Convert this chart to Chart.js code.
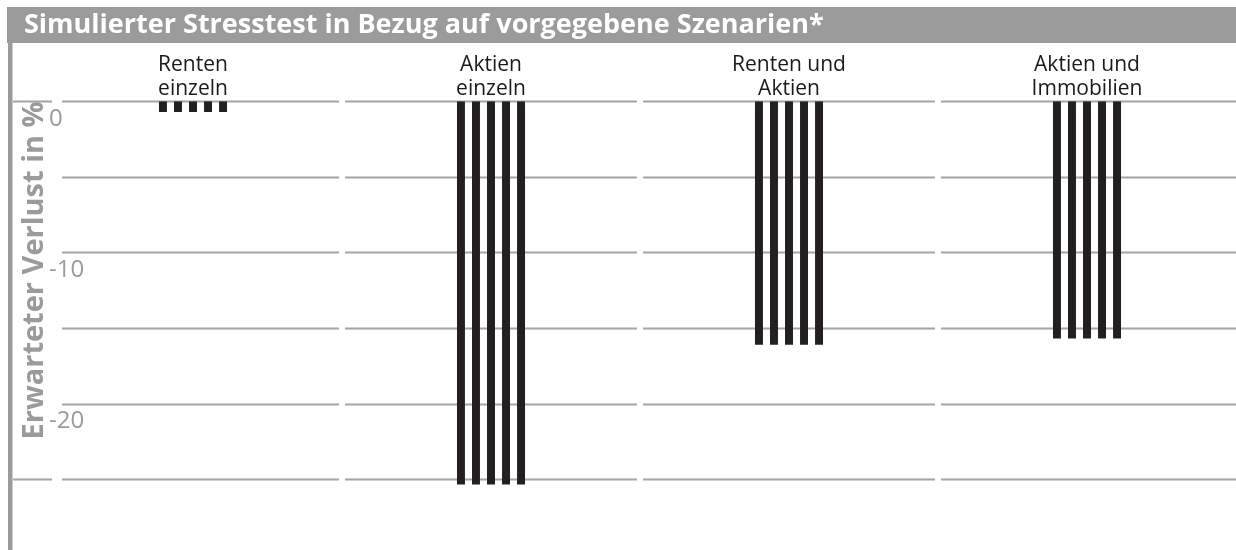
<!DOCTYPE html>
<html>
<head>
<meta charset="utf-8">
<script src="https://cdn.jsdelivr.net/npm/chart.js@4"></script>
<style>
    body { margin: 0; background: #fff; }
    canvas { display: block; }
</style>
</head>
<body>
<canvas id="stressChart" width="1236" height="550"></canvas>
<script>
// ==============================
// Data
// ==============================
const chartTitle = "Simulierter Stresstest in Bezug auf vorgegebene Szenarien*";
const axisTitle = "Erwarteter Verlust in %";

const categories = [
    ["Renten", "einzeln"],
    ["Aktien", "einzeln"],
    ["Renten und", "Aktien"],
    ["Aktien und", "Immobilien"]
];

// expected loss in %
const lossValues = [-0.7, -25.35, -16.1, -15.7];

// every bar is shown as 5 thin stripes
const stripeCount = 5;

const yMin = -28.4;
const yMax = 0;
const gridStep = 5;
const labelStep = 10;

const grey = "#9b9b9b";
const barColor = "#231f20";


// ==============================
// Frame: title bar, left rule, broken grid lines
// ==============================
const framePlugin = {
    id: "frame",
    beforeDraw(chart) {
        const ctx = chart.ctx;
        ctx.save();

        // title bar
        ctx.fillStyle = grey;
        ctx.fillRect(7, 7, chart.width - 7, 36);
        ctx.fillStyle = "#ffffff";
        ctx.font = "bold 27px 'Open Sans'";
        ctx.textBaseline = "middle";
        ctx.fillText(chartTitle, 24, 25);

        // left rule
        ctx.fillStyle = grey;
        ctx.fillRect(8, 43, 4.5, chart.height - 43);

        ctx.restore();
    },
    beforeDatasetsDraw(chart) {
        const ctx = chart.ctx;
        const area = chart.chartArea;
        const x = chart.scales.x;
        const y = chart.scales.y;

        const slot = x.getPixelForValue(1) - x.getPixelForValue(0);
        const breaks = [];
        for (let i = 1; i < categories.length; i++) {
            breaks.push(x.getPixelForValue(i) - slot / 2);
        }

        const gridValues = y.ticks
            .map(t => t.value)
            .filter(v => v % gridStep === 0);
        const lowest = Math.min(...gridValues);

        ctx.save();
        ctx.strokeStyle = "#a4a4a4";
        ctx.lineWidth = 2;

        gridValues.forEach(v => {
            const py = Math.round(y.getPixelForValue(v)) + 0.5;
            const segments = [];

            // top and bottom lines run out to the left rule
            if (v === 0 || v === lowest) {
                segments.push([13, area.left + 8]);
            }

            let start = area.left + 18;
            breaks.forEach(b => {
                segments.push([start, b - 3]);
                start = b + 3;
            });
            segments.push([start, chart.width]);

            ctx.beginPath();
            segments.forEach(s => {
                ctx.moveTo(s[0], py);
                ctx.lineTo(s[1], py);
            });
            ctx.stroke();
        });

        ctx.restore();
    }
};


// ==============================
// Chart
// ==============================
const datasets = [];
for (let i = 0; i < stripeCount; i++) {
    datasets.push({
        label: "Streifen " + (i + 1),
        data: lossValues,
        backgroundColor: barColor,
        borderWidth: 0,
        categoryPercentage: 0.252,
        barPercentage: 0.53
    });
}

new Chart(document.getElementById("stressChart"), {
    type: "bar",
    data: {
        labels: categories,
        datasets: datasets
    },
    options: {
        responsive: false,
        animation: false,
        devicePixelRatio: 1,
        layout: {
            padding: { top: 53, left: 14, right: 0, bottom: 0 }
        },
        plugins: {
            legend: { display: false },
            tooltip: { enabled: true }
        },
        scales: {
            x: {
                position: "top",
                grid: { display: false, drawTicks: false },
                border: { display: false },
                ticks: {
                    color: "#1a1a1a",
                    padding: 0,
                    maxRotation: 0,
                    autoSkip: false,
                    font: { family: "'Open Sans'", size: 21, lineHeight: 1.15 }
                }
            },
            y: {
                min: yMin,
                max: yMax,
                grid: { display: false, drawTicks: false },
                border: { display: false },
                afterFit(scale) {
                    scale.width = 30;
                },
                title: {
                    display: true,
                    text: axisTitle,
                    align: "end",
                    color: grey,
                    padding: { top: 6, bottom: 0 },
                    font: { family: "'Open Sans'", size: 29, weight: "bold", lineHeight: 1 }
                },
                ticks: {
                    stepSize: gridStep,
                    mirror: true,
                    padding: 5,
                    labelOffset: 18,
                    color: grey,
                    font: { family: "'Open Sans'", size: 24 },
                    callback: v => (v % labelStep === 0 ? v : "")
                }
            }
        }
    },
    plugins: [framePlugin]
});
</script>
</body>
</html>
